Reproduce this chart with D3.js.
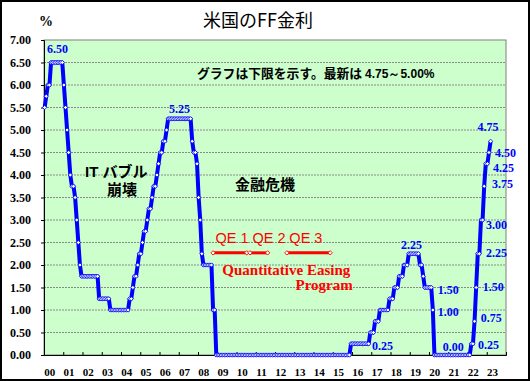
<!DOCTYPE html>
<html><head><meta charset="utf-8">
<script src="https://cdn.jsdelivr.net/npm/d3@7"></script>
<style>
html,body{margin:0;padding:0;background:#fff;}
svg{display:block;}
</style></head>
<body>
<svg id="chart" width="530" height="381"></svg>
<script>
// ---------- data ----------
const yearLabels = ["00","01","02","03","04","05","06","07","08","09","10","11",
                    "12","13","14","15","16","17","18","19","20","21","22","23"];
const yTickValues = [0,0.5,1,1.5,2,2.5,3,3.5,4,4.5,5,5.5,6,6.5,7];

// US FF target (lower bound), monthly from Jan 2000 to Mar 2023
const fedFundsLowerBound = [
  5.50,5.75,6.00,6.00,6.50,6.50,6.50,6.50,6.50,6.50,6.50,6.50, // 2000
  6.00,5.50,5.00,4.50,4.00,3.75,3.75,3.50,3.00,2.50,2.00,1.75, // 2001
  1.75,1.75,1.75,1.75,1.75,1.75,1.75,1.75,1.75,1.75,1.25,1.25, // 2002
  1.25,1.25,1.25,1.25,1.25,1.00,1.00,1.00,1.00,1.00,1.00,1.00, // 2003
  1.00,1.00,1.00,1.00,1.00,1.25,1.25,1.50,1.75,1.75,2.00,2.25, // 2004
  2.25,2.50,2.75,2.75,3.00,3.25,3.25,3.50,3.75,3.75,4.00,4.25, // 2005
  4.50,4.50,4.75,4.75,5.00,5.25,5.25,5.25,5.25,5.25,5.25,5.25, // 2006
  5.25,5.25,5.25,5.25,5.25,5.25,5.25,5.25,4.75,4.50,4.50,4.25, // 2007
  3.50,3.00,2.25,2.00,2.00,2.00,2.00,2.00,2.00,1.00,1.00,0.00, // 2008
  0.00,0.00,0.00,0.00,0.00,0.00,0.00,0.00,0.00,0.00,0.00,0.00, // 2009
  0.00,0.00,0.00,0.00,0.00,0.00,0.00,0.00,0.00,0.00,0.00,0.00, // 2010
  0.00,0.00,0.00,0.00,0.00,0.00,0.00,0.00,0.00,0.00,0.00,0.00, // 2011
  0.00,0.00,0.00,0.00,0.00,0.00,0.00,0.00,0.00,0.00,0.00,0.00, // 2012
  0.00,0.00,0.00,0.00,0.00,0.00,0.00,0.00,0.00,0.00,0.00,0.00, // 2013
  0.00,0.00,0.00,0.00,0.00,0.00,0.00,0.00,0.00,0.00,0.00,0.00, // 2014
  0.00,0.00,0.00,0.00,0.00,0.00,0.00,0.00,0.00,0.00,0.00,0.25, // 2015
  0.25,0.25,0.25,0.25,0.25,0.25,0.25,0.25,0.25,0.25,0.25,0.50, // 2016
  0.50,0.50,0.75,0.75,0.75,1.00,1.00,1.00,1.00,1.00,1.00,1.25, // 2017
  1.25,1.25,1.50,1.50,1.50,1.75,1.75,1.75,2.00,2.00,2.00,2.25, // 2018
  2.25,2.25,2.25,2.25,2.25,2.25,2.00,2.00,1.75,1.50,1.50,1.50, // 2019
  1.50,1.50,1.00,0.00,0.00,0.00,0.00,0.00,0.00,0.00,0.00,0.00, // 2020
  0.00,0.00,0.00,0.00,0.00,0.00,0.00,0.00,0.00,0.00,0.00,0.00, // 2021
  0.00,0.00,0.25,0.25,0.75,1.50,2.25,2.25,3.00,3.00,3.75,4.25, // 2022
  4.25,4.50,4.75                                               // 2023
];

// value call-outs: [text, month index, value]
const callouts = [
  ["6.50",7,6.50],["5.25",84,5.25],["2.25",230,2.25],["1.50",241,1.50],
  ["1.00",242,1.00],["0.25",202,0.25],["0.00",243,0.00],["0.25",266,0.25],
  ["0.75",268,0.75],["1.50",269,1.50],["2.25",271,2.25],["3.00",273,3.00],
  ["3.75",274,3.75],["4.25",276,4.25],["4.50",277,4.50],["4.75",278,4.75]
];
// QE programmes: [label, start month index, end month index]
const qePrograms = [["QE 1",105,126],["QE 2",128,139],["QE 3",151,178]];
const qeLevel = 2.27;

// ---------- layout ----------
const W = 530, H = 381;
const L = 44, R = 506, T = 40, B = 355;
const totalMonths = 288;
const svg = d3.select("#chart");

// label offsets (dx, dy, anchor) for callouts, same order
const calloutOffsets = [
  [1.6,-14,"middle"],[0,-10.5,"middle"],[-2,-9.5,"middle"],[6.4,2,"start"],
  [4.8,1.3,"start"],[3.3,1.5,"start"],[8.2,-8.3,"start"],[6.6,1.3,"start"],
  [6.1,-3.3,"start"],[6.5,-0.8,"start"],[6.6,-1,"start"],[3.4,4.3,"start"],
  [7.8,-2.3,"start"],[5.6,4.3,"start"],[6,0,"start"],[-2.6,-15,"middle"]
];

const x = d3.scaleLinear().domain([0,totalMonths]).range([L,R]);
const y = d3.scaleLinear().domain([0,7]).range([B,T]);
const px = i => x(i + 0.4);

// outer frame
svg.append("rect").attr("x",1).attr("y",1).attr("width",W-2).attr("height",H-2)
  .attr("fill","#fff").attr("stroke","#000").attr("stroke-width",2);

// plot area
svg.append("rect").attr("x",L).attr("y",T).attr("width",R-L).attr("height",B-T)
  .attr("fill","#CCFFCC").attr("stroke","#808080").attr("stroke-width",1);

// gridlines
svg.append("g").selectAll("line").data(yTickValues.filter(v=>v>0 && v<7)).join("line")
  .attr("x1",L).attr("x2",R).attr("y1",d=>y(d)).attr("y2",d=>y(d))
  .attr("stroke","#8a8a8a").attr("stroke-width",1).attr("stroke-dasharray","2,1");

// y axis
const yAxis = d3.axisLeft(y).tickValues(yTickValues).tickFormat(d3.format(".2f")).tickSize(3);
const gy = svg.append("g").attr("transform",`translate(${L},0)`).call(yAxis);
gy.select(".domain").attr("stroke","#000");
gy.selectAll(".tick line").attr("stroke","#000");
gy.selectAll("text").attr("x",-13).attr("font-family","'Liberation Serif','Times New Roman',serif")
  .attr("font-weight","bold").attr("font-size","12px").attr("fill","#000");

// x axis
const yearTicks = d3.range(0,totalMonths+1,12);
const xAxis = d3.axisBottom(x).tickValues(yearTicks).tickFormat("").tickSize(-3);
const gx = svg.append("g").attr("transform",`translate(0,${B})`).call(xAxis);
gx.select(".domain").attr("stroke","#000");
gx.selectAll(".tick line").attr("stroke","#000");
svg.append("g").selectAll("text").data(yearLabels).join("text")
  .attr("x",(d,i)=>x(i*12+3.6)).attr("y",375.5).attr("text-anchor","middle")
  .attr("font-family","'Liberation Serif','Times New Roman',serif").attr("font-weight","bold")
  .attr("font-size","11px").attr("fill","#000").text(d=>d);

// title and unit
svg.append("text").attr("x",258).attr("y",26.5).attr("text-anchor","middle")
  .attr("font-family","'Noto Sans CJK JP',sans-serif").attr("font-size","18px").attr("fill","#000")
  .text("米国のFF金利");
svg.append("text").attr("x",46).attr("y",26).attr("text-anchor","middle")
  .attr("font-family","'Liberation Serif',serif").attr("font-weight","bold").attr("font-size","14px")
  .text("%");

// note
const note = svg.append("text").attr("x",197).attr("y",77.5)
  .attr("font-family","'Noto Sans CJK JP',sans-serif").attr("font-weight","bold").attr("font-size","12.8px").attr("fill","#000");
note.append("tspan").text("グラフは下限を示す。最新は");
note.append("tspan").attr("dx",3).attr("font-family","'Liberation Sans',Arial,sans-serif").attr("font-size","12px").text("4.75～5.00%");

// event labels
const jpStyle = s => s.attr("font-family","'Liberation Sans','Noto Sans CJK JP',sans-serif").attr("font-weight","bold")
  .attr("font-size","15px").attr("fill","#000");
jpStyle(svg.append("text")).attr("x",85).attr("y",176.5).text("IT バブル");
jpStyle(svg.append("text")).attr("x",107).attr("y",194.5).text("崩壊");
jpStyle(svg.append("text")).attr("x",235).attr("y",189.5).text("金融危機");

// QE lines
const qeG = svg.append("g");
qeG.selectAll("line").data(qePrograms).join("line")
  .attr("x1",d=>px(d[1])).attr("x2",d=>px(d[2])).attr("y1",y(qeLevel)).attr("y2",y(qeLevel))
  .attr("stroke","#FF0000").attr("stroke-width",3);
const diamond = r => `M0,${-r}L${r},0L0,${r}L${-r},0Z`;
qeG.selectAll("path").data(qePrograms.flatMap(d=>[d[1],d[2]])).join("path")
  .attr("d",diamond(2.2)).attr("transform",d=>`translate(${px(d)},${y(qeLevel)})`)
  .attr("fill","#fff").attr("stroke","#FF0000").attr("stroke-width",0.9);
qeG.selectAll("text").data(qePrograms).join("text")
  .attr("x",d=>px(d[1])+2.5).attr("y",243)
  .attr("font-family","'Liberation Sans Narrow','Liberation Sans',Arial,sans-serif").attr("font-size","14.5px").attr("fill","#FF0000")
  .text(d=>d[0]);
svg.append("text").attr("x",222.3).attr("y",274.5)
  .attr("font-family","'Liberation Serif','Times New Roman',serif").attr("font-weight","bold")
  .attr("font-size","15px").attr("fill","#FF0000").text("Quantitative Easing");
svg.append("text").attr("x",352.7).attr("y",290).attr("text-anchor","end")
  .attr("font-family","'Liberation Serif','Times New Roman',serif").attr("font-weight","bold")
  .attr("font-size","15px").attr("fill","#FF0000").text("Program");

// rate line
const line = d3.line().x((d,i)=>px(i)).y(d=>y(d));
svg.append("path").datum(fedFundsLowerBound).attr("d",line)
  .attr("fill","none").attr("stroke","#0000FF").attr("stroke-width",4).attr("stroke-linejoin","round");
svg.append("g").selectAll("path").data(fedFundsLowerBound).join("path")
  .attr("d",diamond(2.1)).attr("transform",(d,i)=>`translate(${px(i)},${y(d)})`)
  .attr("fill","#fff").attr("stroke","#0000FF").attr("stroke-width",0.8);

// callouts
svg.append("g").selectAll("text").data(callouts).join("text")
  .attr("x",(d,k)=>px(d[1])+calloutOffsets[k][0])
  .attr("y",(d,k)=>y(d[2])+calloutOffsets[k][1]+4.3)
  .attr("text-anchor",(d,k)=>calloutOffsets[k][2])
  .attr("font-family","'Liberation Serif','Times New Roman',serif").attr("font-weight","bold")
  .attr("font-size","12px").attr("fill","#0000FF").text(d=>d[0]);
</script>
</body></html>
